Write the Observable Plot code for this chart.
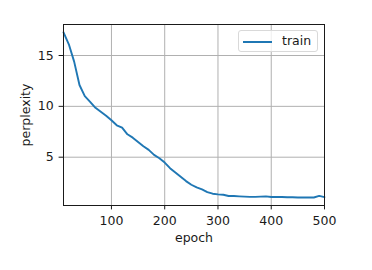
<!DOCTYPE html>
<html>
<head>
<meta charset="utf-8">
<script src="https://cdn.jsdelivr.net/npm/d3@7"></script>
<script src="https://cdn.jsdelivr.net/npm/@observablehq/plot@0.6"></script>
<style>
  html, body { margin: 0; padding: 0; background: #fff; }
  #wrap { position: relative; width: 372px; height: 270px; }
  #legend { position: absolute; left: 238px; top: 30px; width: 80px; height: 22px;
    border: 1px solid #d9d9d9; border-radius: 3px; background: rgba(255,255,255,0.8);
    font: 12.5px "DejaVu Sans", sans-serif; color: #1a1a1a; box-sizing: border-box; }
  #legend .sw { position: absolute; left: 4px; top: 9.5px; width: 29px; height: 0; border-top: 2px solid #1f77b4; }
  #legend .lb { position: absolute; left: 43px; top: 3px; line-height: 1.164; }
</style>
</head>
<body>
<div id="wrap"></div>
<script>
const epochs = [10,20,30,40,50,60,70,80,90,100,110,120,130,140,150,160,170,180,190,200,
  210,220,230,240,250,260,270,280,290,300,310,320,330,340,350,360,370,380,390,400,
  410,420,430,440,450,460,470,480,490,500];
const perplexity = [17.28,16.1,14.4,12.1,11.0,10.45,9.86,9.47,9.08,8.63,
  8.14,7.9,7.25,6.92,6.5,6.08,5.72,5.23,4.9,4.47,
  3.92,3.49,3.07,2.65,2.29,2.03,1.83,1.57,1.41,1.34,
  1.31,1.18,1.18,1.15,1.12,1.1,1.1,1.12,1.15,1.08,
  1.08,1.08,1.06,1.06,1.04,1.04,1.04,1.04,1.2,1.08];
const xTicks = [100,200,300,400,500];
const yTicks = [5,10,15];
const seriesName = "train";

const data = epochs.map((e, i) => ({epoch: e, ppl: perplexity[i]}));
const font = "DejaVu Sans, sans-serif";

const chart = Plot.plot({
  width: 372,
  height: 270,
  marginLeft: 63,
  marginRight: 48,
  marginTop: 24,
  marginBottom: 65,
  style: {fontFamily: font, fontSize: "12.5px", color: "#1a1a1a", background: "#fff"},
  x: {domain: [10, 500]},
  y: {domain: [0.25, 18.05]},
  marks: [
    Plot.gridX(xTicks, {stroke: "#b0b0b0", strokeOpacity: 1, strokeWidth: 1}),
    Plot.gridY(yTicks, {stroke: "#b0b0b0", strokeOpacity: 1, strokeWidth: 1}),
    Plot.line(data, {x: "epoch", y: "ppl", stroke: "#1f77b4", strokeWidth: 1.9}),
    Plot.frame({stroke: "#1a1a1a", strokeWidth: 1}),
    Plot.axisX(xTicks, {tickSize: 4.4, tickPadding: 6.5, fontSize: 12.5, label: "epoch",
      labelAnchor: "center", labelArrow: "none", labelOffset: 36, stroke: "#1a1a1a"}),
    Plot.axisY(yTicks, {tickSize: 4.4, tickPadding: 5.5, fontSize: 12.5, label: "perplexity",
      labelAnchor: "center", labelArrow: "none", labelOffset: 42, stroke: "#1a1a1a"})
  ]
});
const wrap = document.getElementById("wrap");
wrap.appendChild(chart);
const lg = document.createElement("div");
lg.id = "legend";
lg.innerHTML = `<div class="sw"></div><div class="lb">${seriesName}</div>`;
wrap.appendChild(lg);
</script>
</body>
</html>
